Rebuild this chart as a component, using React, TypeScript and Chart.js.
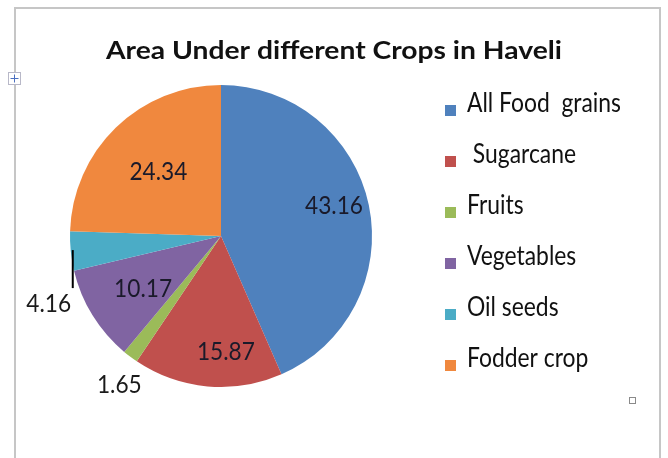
import React, { useEffect, useRef } from "react";
import { Chart, registerables } from "chart.js";

Chart.register(...registerables);

const TITLE = "Area Under different Crops in Haveli";
const categories = ["All Food  grains", " Sugarcane", "Fruits", "Vegetables", "Oil seeds", "Fodder crop"];
const values = [43.16, 15.87, 1.65, 10.17, 4.16, 24.34];
const valueLabels = ["43.16", "15.87", "1.65", "10.17", "4.16", "24.34"];
const colors = ["#4F81BD", "#C0504D", "#9BBB59", "#8064A2", "#4BACC6", "#F0883E"];

const FONT = "Lato, 'Noto Sans', sans-serif";

function drawFitted(
  ctx: CanvasRenderingContext2D,
  text: string,
  x: number,
  y: number,
  font: string,
  sx: number,
  align: CanvasTextAlign,
  baseline: CanvasTextBaseline,
  color: string
) {
  ctx.save();
  ctx.font = font;
  ctx.fillStyle = color;
  ctx.textAlign = align;
  ctx.textBaseline = baseline;
  ctx.translate(x, y);
  ctx.scale(sx, 1);
  ctx.fillText(text, 0, 0);
  ctx.restore();
}

const decorPlugin = {
  id: "decor",
  beforeDraw(chart: any) {
    const ctx: CanvasRenderingContext2D = chart.ctx;
    ctx.save();
    ctx.fillStyle = "#ffffff";
    ctx.fillRect(0, 0, chart.width, chart.height);
    // frame
    ctx.strokeStyle = "#c6c6c6";
    ctx.lineWidth = 2;
    ctx.beginPath();
    ctx.moveTo(15, chart.height + 2);
    ctx.lineTo(15, 8);
    ctx.lineTo(660, 8);
    ctx.lineTo(660, chart.height + 2);
    ctx.stroke();
    // move handle
    ctx.fillStyle = "#ffffff";
    ctx.fillRect(8, 72, 13, 13);
    ctx.strokeStyle = "#b8b8c8";
    ctx.lineWidth = 1;
    ctx.strokeRect(8.5, 72.5, 12, 12);
    ctx.strokeStyle = "#4a6fc0";
    ctx.beginPath();
    ctx.moveTo(10.5, 78.5);
    ctx.lineTo(18.5, 78.5);
    ctx.moveTo(14.5, 74.5);
    ctx.lineTo(14.5, 82.5);
    ctx.stroke();
    // small resize square
    ctx.strokeStyle = "#8a8a8a";
    ctx.strokeRect(629.5, 397.5, 6, 6);
    ctx.restore();
  },
  afterDraw(chart: any) {
    const ctx: CanvasRenderingContext2D = chart.ctx;
    // title
    const tFont = `bold 25px ${FONT}`;
    ctx.save();
    ctx.font = tFont;
    const tw = ctx.measureText(TITLE).width;
    ctx.restore();
    drawFitted(ctx, TITLE, 334, 59, tFont, 456 / tw, "center", "alphabetic", "#111111");

    // legend
    const lFont = `26px ${FONT}`;
    ctx.save();
    ctx.font = lFont;
    const lw = ctx.measureText(categories[0]).width;
    ctx.restore();
    const lsx = 154 / lw;
    categories.forEach((c, i) => {
      const base = 112 + i * 51;
      ctx.fillStyle = colors[i];
      ctx.fillRect(445, base - 7, 11, 11);
      drawFitted(ctx, c, 467, base, lFont, lsx, "left", "alphabetic", "#111111");
    });

    // data labels
    const meta = chart.getDatasetMeta(0);
    const dFont = `25px ${FONT}`;
    ctx.save();
    ctx.font = dFont;
    const dw = ctx.measureText("43.16").width;
    ctx.restore();
    const dsx = 58 / dw;
    const inside: Record<number, [number, number]> = {
      0: [0.776, -3.5],
      1: [0.76, -7.6],
      3: [0.62, -2],
      5: [0.6, 0.4],
    };
    meta.data.forEach((arc: any, i: number) => {
      const p = arc.getProps(["x", "y", "startAngle", "endAngle", "outerRadius"], true);
      const mid = (p.startAngle + p.endAngle) / 2;
      if (inside[i]) {
        const [f, shift] = inside[i];
        const a = mid + (shift * Math.PI) / 180;
        const x = p.x + Math.cos(a) * p.outerRadius * f;
        const y = p.y + Math.sin(a) * p.outerRadius * f;
        drawFitted(ctx, valueLabels[i], x, y + 1, dFont, dsx, "center", "middle", "#1a1a2a");
      } else {
        const ex = p.x + Math.cos(mid) * p.outerRadius;
        const ey = p.y + Math.sin(mid) * p.outerRadius;
        if (i === 4) {
          ctx.save();
          ctx.strokeStyle = "#000000";
          ctx.lineWidth = 2;
          ctx.beginPath();
          ctx.moveTo(ex + 2, ey - 1);
          ctx.lineTo(ex + 2, ey + 37);
          ctx.stroke();
          ctx.restore();
          drawFitted(ctx, valueLabels[i], ex - 22, ey + 53, dFont, dsx, "center", "middle", "#1a1a1a");
        } else {
          drawFitted(ctx, valueLabels[i], ex - 11, ey + 28, dFont, dsx, "center", "middle", "#1a1a1a");
        }
      }
    });
  },
};

export default function App() {
  const ref = useRef<HTMLCanvasElement>(null);
  useEffect(() => {
    if (!ref.current) return;
    const chart = new Chart(ref.current, {
      type: "pie",
      data: {
        labels: categories,
        datasets: [
          {
            data: values,
            backgroundColor: colors,
            borderWidth: 0,
            hoverOffset: 0,
            offset: 0,
          },
        ],
      },
      options: {
        responsive: false,
        animation: false,
        events: [],
        layout: { padding: { left: 70, top: 85, right: 296, bottom: 71 } },
        plugins: {
          legend: { display: false },
          title: { display: false },
          tooltip: { enabled: false },
        },
      },
      plugins: [decorPlugin],
    });
    return () => chart.destroy();
  }, []);
  return (
    <div style={{ position: "fixed", left: 0, top: 0, width: 668, height: 458, background: "#fff" }}>
      <canvas ref={ref} width={668} height={458} style={{ display: "block" }} />
    </div>
  );
}
